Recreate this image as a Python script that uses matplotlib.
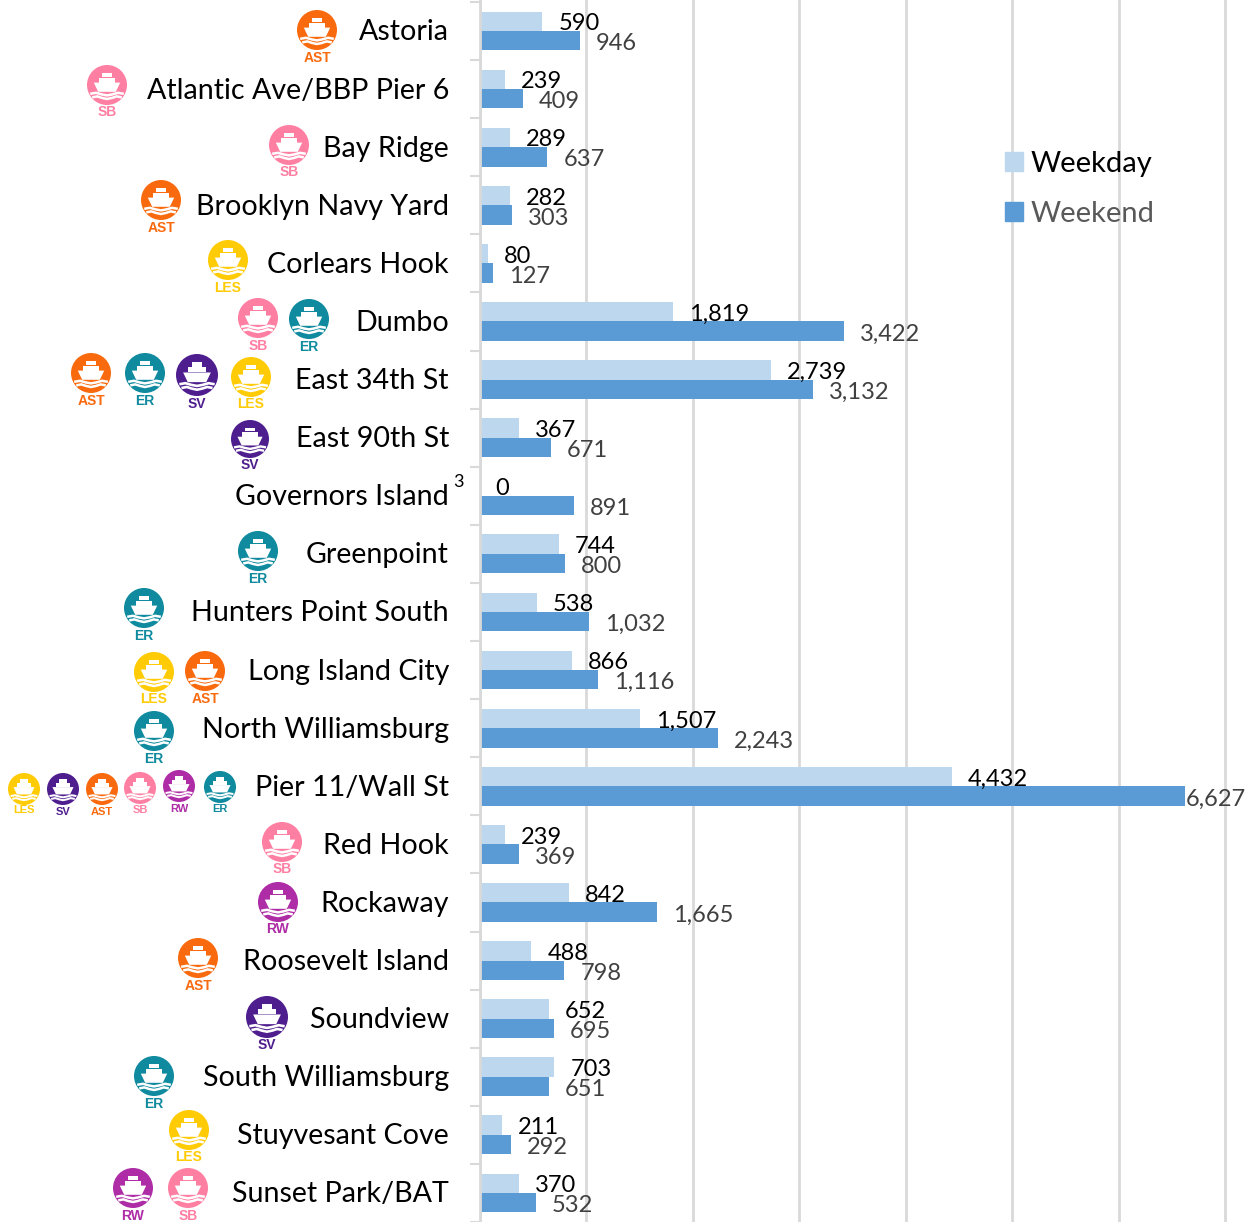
import numpy as np
import matplotlib
matplotlib.use('Agg')
import matplotlib.pyplot as plt
from matplotlib.patches import Circle, Polygon, Patch
from matplotlib.transforms import ScaledTranslation

W, H = 1249, 1222

plt.rcParams['font.family'] = ['Lato', 'DejaVu Sans']

landings = ['Astoria', 'Atlantic Ave/BBP Pier 6', 'Bay Ridge', 'Brooklyn Navy Yard',
            'Corlears Hook', 'Dumbo', 'East 34th St', 'East 90th St', 'Governors Island',
            'Greenpoint', 'Hunters Point South', 'Long Island City', 'North Williamsburg',
            'Pier 11/Wall St', 'Red Hook', 'Rockaway', 'Roosevelt Island', 'Soundview',
            'South Williamsburg', 'Stuyvesant Cove', 'Sunset Park/BAT']
weekday = [590, 239, 289, 282, 80, 1819, 2739, 367, 0, 744, 538, 866, 1507, 4432,
           239, 842, 488, 652, 703, 211, 370]
weekend = [946, 409, 637, 303, 127, 3422, 3132, 671, 891, 800, 1032, 1116, 2243, 6627,
           369, 1665, 798, 695, 651, 292, 532]

route_colors = {'AST': '#F96A0E', 'ER': '#0F8A9E', 'SV': '#4F1E8E',
                'LES': '#FFCB05', 'SB': '#FF7FA3', 'RW': '#AE2CA5'}

# route badges next to the labels: code, x, y, radius, y of the code (pixels)
badges = [('AST', 317, 30, 20, 57), ('SB', 107, 85, 20, 111), ('SB', 289, 145, 20, 171),
          ('AST', 161, 200, 20, 227), ('LES', 228, 260, 20, 287),
          ('SB', 258, 318, 20, 345), ('ER', 309, 319, 20, 346),
          ('AST', 91, 373, 20, 400), ('ER', 145, 373, 20, 400),
          ('SV', 197, 375, 21, 403), ('LES', 251, 377, 20, 403),
          ('SV', 250, 439, 19, 464), ('ER', 258, 551, 20, 578), ('ER', 144, 608, 20, 635),
          ('LES', 154, 672, 20, 698), ('AST', 205, 671, 20, 698), ('ER', 154, 731, 20, 758),
          ('LES', 24, 789, 16, 809), ('SV', 63, 789, 16, 811), ('AST', 102, 789, 16, 811),
          ('SB', 140, 788, 16, 809), ('RW', 179, 786, 16, 808), ('ER', 220, 787, 16, 808),
          ('SB', 282, 842, 20, 868), ('RW', 278, 902, 20, 928), ('AST', 198, 958, 20, 985),
          ('SV', 267, 1017, 21, 1044), ('ER', 154, 1076, 20, 1103), ('LES', 189, 1130, 20, 1156),
          ('RW', 133, 1188, 20, 1215), ('SB', 188, 1188, 20, 1215)]

# ship outline, unit circle coordinates
hull = [(-0.66, -0.12), (0.66, -0.12), (0.44, 0.34), (-0.44, 0.34)]
deck = [(-0.42, -0.12), (-0.42, -0.36), (0.42, -0.36), (0.42, -0.12)]
bridge = [(-0.24, -0.4), (-0.24, -0.6), (0.24, -0.6), (0.24, -0.4)]
wave_x = [-0.84, -0.55, -0.27, 0.0, 0.27, 0.55, 0.84]
wave_y = [0.0, -0.05, 0.03, 0.08, 0.03, -0.05, 0.0]


def draw_badge(ax, code, x, y, r, ylab):
    c = route_colors[code]
    ax.add_patch(Circle((x, y), r, fc=c, ec='none'))
    for shape in (hull, deck, bridge):
        pts = [(x + r*a, y + r*b) for a, b in shape]
        ax.add_patch(Polygon(pts, fc='white', ec='none'))
    for dy, k in ((0.44, 1.0), (0.62, 0.88)):
        ax.plot([x + r*a*k for a in wave_x], [y + r*(b + dy) for b in wave_y],
                color='white', lw=r*0.09, solid_capstyle='butt')
    ax.text(x, ylab + 1, code, color=c, ha='center', va='center', fontweight='bold',
            family='Liberation Sans', fontsize=10 if r > 16 else 8)


fig = plt.figure(figsize=(W/100, H/100), dpi=100)

pitch = 58.15
top = 31
left = 479.5
ax = fig.add_axes([left/W, 0, (W-left)/W, 1])
ax.set_xlim(0, (W-left)/0.1065)
ax.set_ylim((H-top)/pitch, -top/pitch)
ax.set_axisbelow(True)

y = np.arange(len(landings))
b_h = 1/3.
ax.barh(y - b_h/2, weekday, b_h, color='#BDD7EE', label='Weekday')
ax.barh(y + b_h/2, weekend, b_h, color='#5B9BD5', label='Weekend')

for i in range(len(landings)):
    ax.annotate(format(weekday[i], ','), (weekday[i], i - b_h/2), xytext=(11.5, -1.8),
                textcoords='offset points', va='center', ha='left', fontsize=17, color='black')
    off = 0 if weekend[i] == max(weekend) else 11.5
    ax.annotate(format(weekend[i], ','), (weekend[i], i + b_h/2), xytext=(off, -2.2),
                textcoords='offset points', va='center', ha='left', fontsize=17, color='#404040',
                annotation_clip=False)

ax.set_xticks(np.arange(0, 8000, 1000))
ax.tick_params(axis='x', length=0, labelbottom=False)
ax.xaxis.grid(True, color='#D9D9D9', lw=2)
ax.set_yticks(y)
ax.set_yticklabels(landings, fontsize=20.6, color='black')
ax.tick_params(axis='y', which='major', length=0, pad=22)
ax.set_yticks(np.arange(len(landings)+1) - 0.5, minor=True)
ax.tick_params(axis='y', which='minor', length=7, width=1.5, color='#D9D9D9')
up = ScaledTranslation(0, 1/100., fig.dpi_scale_trans)
for t in ax.get_yticklabels():
    t.set_transform(t.get_transform() + up)
for s in ['top', 'right', 'bottom']:
    ax.spines[s].set_visible(False)
ax.spines['left'].set_color('#D9D9D9')
ax.spines['left'].set_linewidth(2)

leg = ax.legend(handles=[Patch(color='#BDD7EE', label='Weekday'), Patch(color='#5B9BD5', label='Weekend')],
                loc='upper left', bbox_to_anchor=(1005/W, 1 - 151/H), bbox_transform=fig.transFigure,
                frameon=False, fontsize=21, handlelength=0.62, handleheight=0.62, handletextpad=0.27,
                labelspacing=0.83, borderpad=0, borderaxespad=0, labelcolor=['black', '#595959'])

# overlay in pixel coordinates for the badges
ov = fig.add_axes([0, 0, 1, 1])
ov.set_xlim(0, W)
ov.set_ylim(H, 0)
ov.axis('off')
ov.patch.set_alpha(0)
for b in badges:
    draw_badge(ov, *b)
ov.text(453, 482, '3', fontsize=13, ha='left', va='center', color='black')

fig.savefig('out.png', dpi=100)
